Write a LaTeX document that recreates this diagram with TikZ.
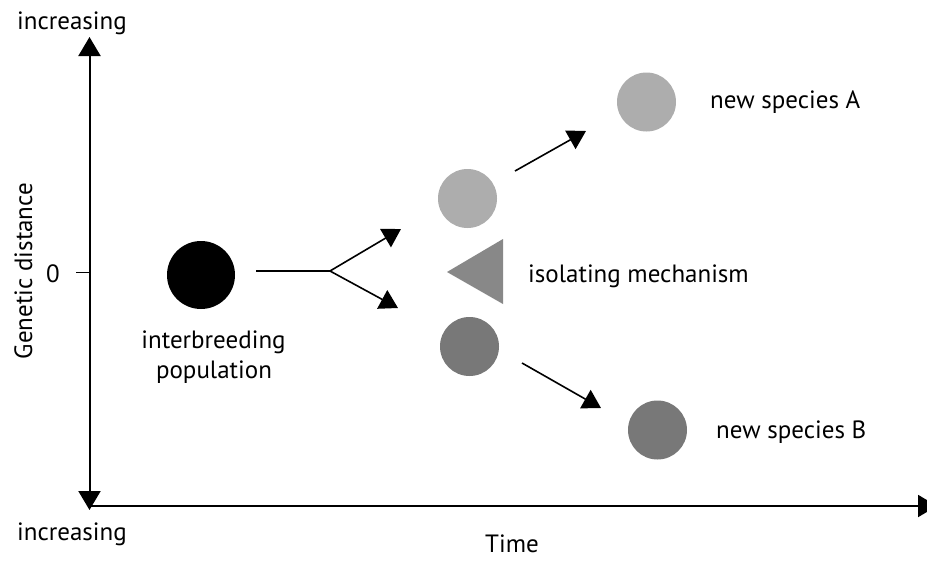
\documentclass[tikz,border=0pt]{standalone}
\usepackage{fontspec}
\setmainfont{PT Sans}
\usetikzlibrary{arrows.meta}
\definecolor{lightg}{HTML}{ADADAD}
\definecolor{darkg}{HTML}{787878}
\definecolor{trig}{HTML}{888888}
\begin{document}
\begin{tikzpicture}[x=1pt,y=-1pt,
  lbl/.style={inner sep=0pt, font=\fontsize{25}{30}\selectfont},
  conn/.style={line width=1.6pt, -{Triangle[length=18pt,width=21pt]}},
  axisline/.style={line width=2pt},
  blob/.style={circle, inner sep=0pt, minimum size=59pt, draw=none},
]
\useasboundingbox (0,0) rectangle (927,560);
\clip (0,0) rectangle (927,560);
% axes
\coordinate (ytop) at (89.5,37);
\coordinate (ybot) at (89.5,510);
\coordinate (orig) at (89.5,506);
\coordinate (xend) at (937,506);
\coordinate (tick0) at (76,272.5);
\coordinate (tick1) at (89.5,272.5);
\draw[axisline, {Triangle[length=19pt,width=22pt]}-{Triangle[length=19pt,width=22pt]}] (ytop) -- (ybot);
\draw[axisline, -{Triangle[length=19pt,width=22pt]}] (orig) -- (xend);
\draw[line width=1.6pt] (tick0) -- (tick1);
% labels on axes
\node[lbl, anchor=base west] (inctop) at (17,29) {increasing};
\node[lbl, anchor=base west] (incbot) at (17,540) {increasing};
\node[lbl, anchor=base west] (time) at (485,552) {Time};
\node[lbl, anchor=base west] (zero) at (46,282) {0};
\node[lbl, anchor=base, rotate=90] (gd) at (32,271) {Genetic distance};
% circles
\node[blob, fill=black, minimum size=68pt] (pop) at (201,275) {};
\node[blob, fill=lightg] (up) at (467.5,198.5) {};
\node[blob, fill=darkg] (down) at (469.5,346.5) {};
\node[blob, fill=lightg] (spA) at (646.5,102) {};
\node[blob, fill=darkg] (spB) at (657.5,430) {};
% isolating mechanism triangle
\fill[trig] (447,272) -- (503,239) -- (503,304) -- cycle;
% text labels
\node[lbl, anchor=base] (popl1) at (213.5,348) {interbreeding};
\node[lbl, anchor=base] (popl2) at (214,378) {population};
\node[lbl, anchor=base west] (iso) at (528,282) {isolating mechanism};
\node[lbl, anchor=base west] (labA) at (710,108) {new species A};
\node[lbl, anchor=base west] (labB) at (716,438) {new species B};
% branching arrows
\coordinate (bs) at (256,271);
\coordinate (bj) at (330,271);
\coordinate (bu) at (401,229);
\coordinate (bd) at (398,308);
\draw[line width=1.6pt] (bs) -- (bj);
\draw[conn] (bj) -- (bu);
\draw[conn] (bj) -- (bd);
\coordinate (aAs) at (515,171);
\coordinate (aAe) at (586,131);
\coordinate (aBs) at (522,363);
\coordinate (aBe) at (601,408);
\draw[conn] (aAs) -- (aAe);
\draw[conn] (aBs) -- (aBe);
\end{tikzpicture}
\end{document}
